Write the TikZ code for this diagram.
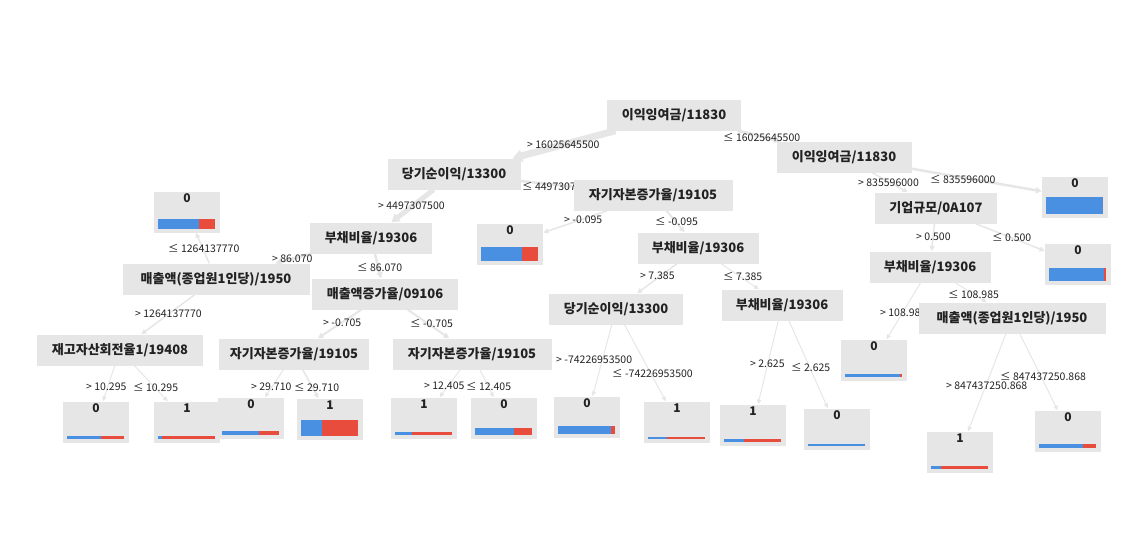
\documentclass[tikz,border=0pt]{standalone}
\usepackage{fontspec}
\setmainfont{Noto Sans CJK KR}
\usetikzlibrary{arrows.meta}
\pgfdeclarelayer{bg}
\pgfsetlayers{bg,main}
\definecolor{boxgray}{HTML}{E6E6E6}
\definecolor{edgegray}{HTML}{E6E6E6}
\definecolor{barblue}{HTML}{4A90E2}
\definecolor{barred}{HTML}{E74C3C}
\definecolor{inkdark}{HTML}{222222}
% leaf: name, x, y, class, blue share, bar height
\newcommand{\leafbox}[6]{%
  \node[leaf] (#1) at (#2,#3) {#4};
  \fill[barblue] ([shift={(4pt,4pt)}]#1.south west) rectangle ++({57*#5},{-#6});
  \fill[barred] ([shift={({4pt+57pt*#5},4pt)}]#1.south west) rectangle ++({57*(1-#5)},{-#6});
}

\begin{document}
\begin{tikzpicture}[x=1pt,y=-1pt,
  split/.style={fill=boxgray, minimum height=31pt, inner sep=0pt, text=inkdark,
    font=\fontsize{13}{15}\selectfont\bfseries},
  leaf/.style={fill=boxgray, minimum width=66pt, inner xsep=0pt, inner ysep=3pt,
    text height=8pt, text depth=27pt, text=inkdark, font=\fontsize{12}{14}\selectfont\bfseries},
  edge/.style={draw=edgegray, -{Triangle[length=4pt 0.8, width=3pt 1.3]}},
  cut/.style={anchor=west, inner sep=0pt, text=inkdark, font=\fontsize{10.5}{12}\selectfont}]
\useasboundingbox (0,0) rectangle (1132,539);

% splits
\node[split, minimum width=134pt] (ieik) at (674,115) {이익잉여금/11830};
\node[split, minimum width=133pt] (dangi) at (454,174) {당기순이익/13300};
\node[split, minimum width=135pt] (ieikR) at (844,157) {이익잉여금/11830};
\node[split, minimum width=159pt] (jagiT) at (653,195) {자기자본증가율/19105};
\node[split, minimum width=122pt] (buchaeL) at (371,238) {부채비율/19306};
\node[split, minimum width=187pt] (salesEmpL) at (216,279) {매출액(종업원1인당)/1950};
\node[split, minimum width=146pt] (salesGrow) at (385,294) {매출액증가율/09106};
\node[split, minimum width=166pt] (stock) at (120,350) {재고자산회전율1/19408};
\node[split, minimum width=150pt] (jagiL) at (294,354) {자기자본증가율/19105};
\node[split, minimum width=159pt] (jagiM) at (472,354) {자기자본증가율/19105};
\node[split, minimum width=121pt] (buchaeM) at (698,248) {부채비율/19306};
\node[split, minimum width=134pt] (dangiM) at (616,309) {당기순이익/13300};
\node[split, minimum width=121pt] (buchaeM2) at (782,305) {부채비율/19306};
\node[split, minimum width=122pt] (firmSize) at (936,208) {기업규모/0A107};
\node[split, minimum width=121pt] (buchaeR) at (930,267) {부채비율/19306};
\node[split, minimum width=187pt] (salesEmpR) at (1012,318) {매출액(종업원1인당)/1950};

% leaves
\leafbox{leafA}{187}{212}{0}{0.73}{10}
\leafbox{leafB}{510}{244}{0}{0.73}{14}
\leafbox{leafC}{1075}{197}{0}{1}{17}
\leafbox{leafD}{1078}{264}{0}{0.96}{13}
\leafbox{stockHi}{96}{422}{0}{0.6}{3}
\leafbox{stockLo}{187}{422}{1}{0.07}{3}
\leafbox{jagiLHi}{251}{418}{0}{0.66}{4}
\leafbox{jagiLLo}{330}{419}{1}{0.38}{16}
\leafbox{jagiMHi}{424}{418}{1}{0.3}{3}
\leafbox{jagiMLo}{504}{418}{0}{0.68}{7}
\leafbox{dangiHi}{587}{417}{0}{0.94}{8}
\leafbox{dangiLo}{677}{422}{1}{0.33}{2}
\leafbox{buchaeHi}{753}{425}{1}{0.35}{3}
\leafbox{buchaeLo}{837}{429}{0}{1}{2}
\leafbox{leafR}{874}{360}{0}{0.97}{3}
\leafbox{salesHi}{960}{452}{1}{0.17}{3}
\leafbox{salesLo}{1068}{431}{0}{0.77}{4}

\begin{pgfonlayer}{bg}
% connectors
\draw[edge, line width=7pt] (ieik) -- (dangi);
\draw[edge, line width=3pt] (ieik) -- (ieikR);
\draw[edge, line width=5pt] (dangi) -- (buchaeL);
\draw[edge, line width=2.5pt] (dangi) -- (jagiT);
\draw[edge, line width=3pt] (buchaeL) -- (salesEmpL);
\draw[edge, line width=2.5pt] (buchaeL) -- (salesGrow);
\draw[edge, line width=1.5pt] (salesEmpL) -- (leafA);
\draw[edge, line width=1.5pt] (salesEmpL) -- (stock);
\draw[edge, line width=1pt] (stock) -- (stockHi);
\draw[edge, line width=1pt] (stock) -- (stockLo);
\draw[edge, line width=2pt] (salesGrow) -- (jagiL);
\draw[edge, line width=2pt] (salesGrow) -- (jagiM);
\draw[edge, line width=1pt] (jagiL) -- (jagiLHi);
\draw[edge, line width=1.5pt] (jagiL) -- (jagiLLo);
\draw[edge, line width=1pt] (jagiM) -- (jagiMHi);
\draw[edge, line width=1pt] (jagiM) -- (jagiMLo);
\draw[edge, line width=1.5pt] (jagiT) -- (leafB);
\draw[edge, line width=2pt] (jagiT) -- (buchaeM);
\draw[edge, line width=1.5pt] (buchaeM) -- (dangiM);
\draw[edge, line width=1pt] (buchaeM) -- (buchaeM2);
\draw[edge, line width=1pt] (dangiM) -- (dangiHi);
\draw[edge, line width=1pt] (dangiM) -- (dangiLo);
\draw[edge, line width=1pt] (buchaeM2) -- (buchaeHi);
\draw[edge, line width=1pt] (buchaeM2) -- (buchaeLo);
\draw[edge, line width=2.5pt] (ieikR) -- (leafC);
\draw[edge, line width=1.5pt] (ieikR) -- (firmSize);
\draw[edge, line width=1.5pt] (firmSize) -- (buchaeR);
\draw[edge, line width=1.5pt] (firmSize) -- (leafD);
\draw[edge, line width=1pt] (buchaeR) -- (leafR);
\draw[edge, line width=1pt] (buchaeR) -- (salesEmpR);
\draw[edge, line width=1pt] (salesEmpR) -- (salesHi);
\draw[edge, line width=1pt] (salesEmpR) -- (salesLo);

% thresholds
\node[cut] (cutA1) at (527,145) {> 16025645500};
\node[cut] (cutA2) at (723,137) {≤ 16025645500};
\node[cut] (cutB1) at (378,206) {> 4497307500};
\node[cut] (cutB2) at (522,186) {≤ 4497307500};
\node[cut] (cutC1) at (272,259) {> 86.070};
\node[cut] (cutC2) at (357,267) {≤ 86.070};
\node[cut] (cutD2) at (168,248) {≤ 1264137770};
\node[cut] (cutD1) at (135,314) {> 1264137770};
\node[cut] (cutE1) at (86,387) {> 10.295};
\node[cut] (cutE2) at (133,387) {≤ 10.295};
\node[cut] (cutF1) at (323,323) {> -0.705};
\node[cut] (cutF2) at (410,323) {≤ -0.705};
\node[cut] (cutG1) at (251,387) {> 29.710};
\node[cut] (cutG2) at (294,387) {≤ 29.710};
\node[cut] (cutH1) at (424,386) {> 12.405};
\node[cut] (cutH2) at (466,386) {≤ 12.405};
\node[cut] (cutI1) at (564,220) {> -0.095};
\node[cut] (cutI2) at (655,221) {≤ -0.095};
\node[cut] (cutJ1) at (640,276) {> 7.385};
\node[cut] (cutJ2) at (723,276) {≤ 7.385};
\node[cut] (cutK1) at (556,360) {> -74226953500};
\node[cut] (cutK2) at (612,373) {≤ -74226953500};
\node[cut] (cutL1) at (750,364) {> 2.625};
\node[cut] (cutL2) at (791,367) {≤ 2.625};
\node[cut] (cutM1) at (858,183) {> 835596000};
\node[cut] (cutM2) at (930,179) {≤ 835596000};
\node[cut] (cutN1) at (916,237) {> 0.500};
\node[cut] (cutN2) at (992,237) {≤ 0.500};
\node[cut] (cutO1) at (880,313) {> 108.985};
\node[cut] (cutO2) at (948,294) {≤ 108.985};
\node[cut] (cutP1) at (946,386) {> 847437250.868};
\node[cut] (cutP2) at (1000,376) {≤ 847437250.868};
\end{pgfonlayer}
\end{tikzpicture}
\end{document}
